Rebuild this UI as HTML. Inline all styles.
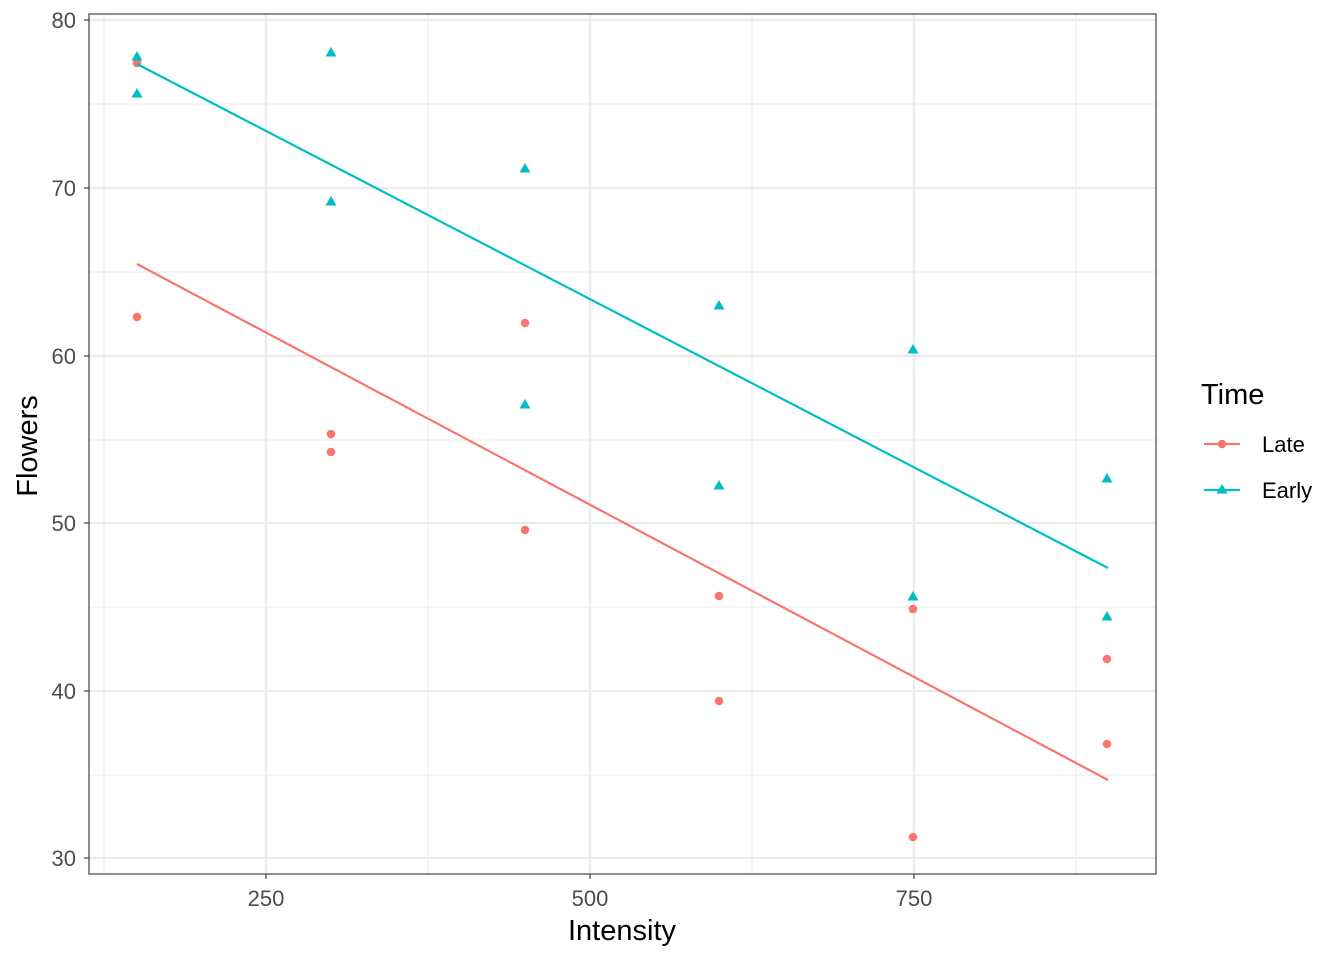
<!DOCTYPE html>
<html><head><meta charset="utf-8"><style>
html,body{margin:0;padding:0;background:#fff;}
svg{display:block;font-family:"Liberation Sans",Arial,sans-serif;}
</style></head><body>
<svg width="1344" height="960" viewBox="0 0 1344 960" xmlns="http://www.w3.org/2000/svg">
<rect x="0" y="0" width="1344" height="960" fill="#fff"/>
<g stroke="#ebebeb" stroke-width="1.1">
<line x1="104" y1="14" x2="104" y2="874"/><line x1="428" y1="14" x2="428" y2="874"/>
<line x1="752" y1="14" x2="752" y2="874"/><line x1="1076" y1="14" x2="1076" y2="874"/>
<line x1="89" y1="104" x2="1156" y2="104"/><line x1="89" y1="272" x2="1156" y2="272"/>
<line x1="89" y1="440" x2="1156" y2="440"/><line x1="89" y1="607" x2="1156" y2="607"/>
<line x1="89" y1="775" x2="1156" y2="775"/>
</g>
<g stroke="#ebebeb" stroke-width="2.2">
<line x1="266" y1="14" x2="266" y2="874"/><line x1="590" y1="14" x2="590" y2="874"/><line x1="914" y1="14" x2="914" y2="874"/>
<line x1="89" y1="20" x2="1156" y2="20"/><line x1="89" y1="188" x2="1156" y2="188"/>
<line x1="89" y1="356" x2="1156" y2="356"/><line x1="89" y1="523" x2="1156" y2="523"/>
<line x1="89" y1="691" x2="1156" y2="691"/><line x1="89" y1="858" x2="1156" y2="858"/>
</g>
<g fill="#F8766D">
<circle cx="137" cy="63" r="4.3"/><circle cx="137" cy="317" r="4.3"/>
<circle cx="331" cy="434" r="4.3"/><circle cx="331" cy="452" r="4.3"/>
<circle cx="525" cy="323" r="4.3"/><circle cx="525" cy="530" r="4.3"/>
<circle cx="719" cy="596" r="4.3"/><circle cx="719" cy="701" r="4.3"/>
<circle cx="913" cy="609" r="4.3"/><circle cx="913" cy="837" r="4.3"/>
<circle cx="1107" cy="659" r="4.3"/><circle cx="1107" cy="744" r="4.3"/>
</g>
<g fill="#00BFC4">
<path d="M137,51 l5.5,9.5 h-11z"/><path d="M137,88 l5.5,9.5 h-11z"/>
<path d="M331,47 l5.5,9.5 h-11z"/><path d="M331,196 l5.5,9.5 h-11z"/>
<path d="M525,163 l5.5,9.5 h-11z"/><path d="M525,399 l5.5,9.5 h-11z"/>
<path d="M719,300 l5.5,9.5 h-11z"/><path d="M719,480 l5.5,9.5 h-11z"/>
<path d="M913,344 l5.5,9.5 h-11z"/><path d="M913,591 l5.5,9.5 h-11z"/>
<path d="M1107,473 l5.5,9.5 h-11z"/><path d="M1107,611 l5.5,9.5 h-11z"/>
</g>
<line x1="137" y1="264" x2="1108" y2="780" stroke="#F8766D" stroke-width="2.2"/>
<line x1="137" y1="64" x2="1108" y2="568" stroke="#00BFC4" stroke-width="2.2"/>
<rect x="89" y="14" width="1067" height="860" fill="none" stroke="#333" stroke-width="1.1"/>
<g stroke="#333" stroke-width="1.1">
<line x1="84" y1="20" x2="89" y2="20"/><line x1="84" y1="188" x2="89" y2="188"/><line x1="84" y1="356" x2="89" y2="356"/>
<line x1="84" y1="523" x2="89" y2="523"/><line x1="84" y1="691" x2="89" y2="691"/><line x1="84" y1="858" x2="89" y2="858"/>
<line x1="266" y1="874" x2="266" y2="879"/><line x1="590" y1="874" x2="590" y2="879"/><line x1="914" y1="874" x2="914" y2="879"/>
</g>
<g fill="#4d4d4d" font-size="22" text-anchor="end">
<text x="76" y="28">80</text><text x="76" y="196">70</text><text x="76" y="364">60</text>
<text x="76" y="531">50</text><text x="76" y="699">40</text><text x="76" y="866">30</text>
</g>
<g fill="#4d4d4d" font-size="22" text-anchor="middle">
<text x="266" y="906">250</text><text x="590" y="906">500</text><text x="914" y="906">750</text>
</g>
<text x="622" y="940" font-size="29" text-anchor="middle" fill="#000">Intensity</text>
<text transform="translate(37,446) rotate(-90)" font-size="29" text-anchor="middle" fill="#000">Flowers</text>
<text x="1201" y="404" font-size="29" fill="#000">Time</text>
<line x1="1204" y1="444" x2="1240" y2="444" stroke="#F8766D" stroke-width="2.2"/>
<circle cx="1222" cy="444" r="4.3" fill="#F8766D"/>
<line x1="1204" y1="490" x2="1240" y2="490" stroke="#00BFC4" stroke-width="2.2"/>
<path d="M1222,484 l5.5,9.5 h-11z" fill="#00BFC4"/>
<text x="1262" y="452" font-size="22" fill="#000">Late</text>
<text x="1262" y="498" font-size="22" fill="#000">Early</text>
</svg>
</body></html>
